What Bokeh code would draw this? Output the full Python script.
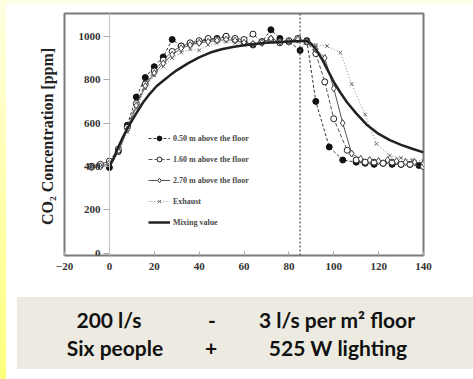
from bokeh.plotting import figure
from bokeh.models import Range1d, FixedTicker, Span, Title, Div, Legend, LegendItem
from bokeh.layouts import row, column
from bokeh.embed import file_html
from bokeh.resources import INLINE

# ---------------- data ----------------
x_ticks = [-20, 0, 20, 40, 60, 80, 100, 120, 140]
y_ticks = [0, 200, 400, 600, 800, 1000]
stop_time = 85

t_a = [-8, -4, 0, 4, 8, 12, 16, 20, 24, 28, 32, 36, 40, 44, 48, 52, 56, 60, 64, 68, 72, 76, 80, 85, 88, 92, 98, 104, 110, 114, 118, 122, 126, 130, 134, 138]
c_a = [400, 405, 395, 470, 590, 720, 810, 860, 905, 985, 955, 965, 975, 985, 990, 1000, 985, 975, 960, 975, 1030, 990, 975, 935, 980, 700, 490, 430, 420, 415, 410, 415, 410, 410, 410, 405]

t_b = [-8, -4, 0, 4, 8, 12, 16, 20, 24, 28, 32, 36, 40, 44, 48, 52, 56, 60, 64, 68, 72, 76, 80, 84, 88, 92, 96, 100, 106, 110, 114, 118, 122, 126, 130, 134, 140]
c_b = [400, 410, 425, 480, 580, 690, 780, 840, 890, 930, 955, 970, 980, 990, 985, 1000, 990, 985, 1010, 975, 985, 970, 980, 990, 975, 920, 790, 620, 475, 430, 420, 420, 415, 420, 410, 410, 400]

t_c = [-8, -4, 0, 4, 8, 12, 16, 20, 24, 28, 32, 36, 40, 44, 48, 52, 56, 60, 64, 68, 72, 76, 80, 84, 88, 92, 96, 100, 104, 108, 112, 116, 120, 124, 128, 132, 136, 140]
c_c = [395, 400, 415, 470, 570, 680, 770, 830, 875, 915, 945, 960, 970, 975, 980, 985, 980, 970, 965, 970, 990, 975, 975, 985, 975, 940, 900, 760, 600, 460, 435, 430, 425, 430, 425, 420, 420, 415]

t_d = [-8, -4, 0, 4, 8, 12, 16, 20, 24, 28, 32, 36, 40, 44, 48, 52, 56, 60, 64, 68, 72, 76, 80, 84, 88, 92, 97, 103, 108, 114, 119, 125, 130, 135, 140]
c_d = [400, 400, 410, 460, 560, 670, 760, 820, 860, 900, 925, 940, 935, 960, 970, 975, 970, 960, 955, 965, 975, 980, 970, 975, 975, 960, 955, 925, 780, 640, 505, 450, 440, 430, 425]

t_m = [0, 2, 4, 6, 8, 10, 12, 15, 18, 21, 24, 27, 30, 35, 40, 45, 50, 55, 60, 65, 70, 75, 80, 85, 88, 90, 92, 95, 98, 100, 103, 106, 110, 115, 120, 125, 130, 135, 140]
c_m = [400, 440, 490, 535, 575, 610, 645, 695, 735, 770, 795, 820, 843, 875, 903, 925, 940, 951, 959, 965, 970, 973, 976, 978, 978, 965, 940, 890, 830, 790, 740, 695, 645, 590, 550, 522, 500, 482, 465]

series_labels = ["0.50 m above the floor", "1.60 m above the floor", "2.70 m above the floor", "Exhaust", "Mixing value"]
y_title = "CO\u2082 Concentration  [ppm]"
box_lines = [["200 l/s", "-", "3 l/s per m\u00b2 floor"],
             ["Six people", "+", "525 W lighting"]]

# ---------------- figure ----------------
p = figure(width=467, height=286, x_range=Range1d(-20, 140), y_range=Range1d(-10, 1105),
           output_backend="svg", toolbar_location=None, title=None,
           min_border_left=58, min_border_right=50, min_border_top=9, min_border_bottom=35,
           margin=0)
p.background_fill_color = "white"
p.border_fill_color = "white"
p.outline_line_color = "#7a7a7a"
p.outline_line_width = 2
p.xgrid.visible = False
p.ygrid.visible = False

serif = "Liberation Serif"
xa = p.xaxis[0]
xa.ticker = FixedTicker(ticks=x_ticks)
xa.major_tick_in = 4
xa.major_tick_out = 0
xa.minor_tick_line_color = None
xa.axis_line_color = None
xa.major_tick_line_color = "#aaaaaa"
xa.major_label_text_font = serif
xa.major_label_text_font_style = "bold"
xa.major_label_text_font_size = "11px"
xa.major_label_text_color = "#333333"
xa.major_label_standoff = 7

ya = p.yaxis[0]
ya.fixed_location = 0
ya.ticker = FixedTicker(ticks=y_ticks)
ya.major_tick_in = 0
ya.major_tick_out = 6
ya.minor_tick_line_color = None
ya.axis_line_color = "#c4c4c4"
ya.major_tick_line_color = "#aaaaaa"
ya.major_label_text_font = serif
ya.major_label_text_font_style = "bold"
ya.major_label_text_font_size = "11px"
ya.major_label_text_color = "#333333"
ya.major_label_standoff = 3

p.add_layout(Title(text=y_title, text_font=serif, text_font_style="bold",
                   text_font_size="16px", text_color="#222222", align="center",
                   standoff=17), "left")

p.add_layout(Span(location=stop_time, dimension="height", line_color="#555555",
                  line_dash="2 2", line_width=1.3))

ra_l = p.line(t_a, c_a, line_color="#333333", line_dash="3 2", line_width=1)
ra_m = p.scatter(t_a, c_a, marker="circle", size=6, fill_color="#111111", line_color="#111111")
rb_l = p.line(t_b, c_b, line_color="#555555", line_dash="4 2", line_width=1)
rb_m = p.scatter(t_b, c_b, marker="circle", size=6, fill_color="white", line_color="#222222")
rc_l = p.line(t_c, c_c, line_color="#555555", line_width=1)
rc_m = p.scatter(t_c, c_c, marker="diamond", size=7, fill_color="white", line_color="#444444")
rd_l = p.line(t_d, c_d, line_color="#888888", line_dash="1 2", line_width=1)
rd_m = p.scatter(t_d, c_d, marker="x", size=5, line_color="#666666")
rm_l = p.line(t_m, c_m, line_color="#222222", line_width=2.5)

legend = Legend(items=[
    LegendItem(label=series_labels[0], renderers=[ra_l, ra_m]),
    LegendItem(label=series_labels[1], renderers=[rb_l, rb_m]),
    LegendItem(label=series_labels[2], renderers=[rc_l, rc_m]),
    LegendItem(label=series_labels[3], renderers=[rd_l, rd_m]),
    LegendItem(label=series_labels[4], renderers=[rm_l]),
], location=(84, 27))
legend.label_text_font = serif
legend.label_text_font_style = "bold"
legend.label_text_font_size = "8px"
legend.label_text_color = "#4a4a4a"
legend.glyph_width = 22
legend.glyph_height = 12
legend.label_height = 12
legend.spacing = 9
legend.padding = 0
legend.margin = 0
legend.label_standoff = 3
legend.border_line_color = None
legend.background_fill_alpha = 0
p.add_layout(legend)

# ---------------- surroundings ----------------
strip = Div(text="", width=6, height=379, margin=0,
            styles={"background": "linear-gradient(#FFFFE2, #FFFF7C)"})
top = Div(text="", width=467, height=4, margin=0, styles={"background-color": "#FFFFE6"})

centers = [[109, 212, 337], [115, 211, 338]]
ys = [30, 58]
spans = ""
for li, line in enumerate(box_lines):
    for ci, txt in enumerate(line):
        spans += ('<span style="position:absolute;left:%dpx;top:%dpx;transform:translate(-50%%,-50%%);'
                  'font-family:Lato;font-weight:bold;font-size:21px;color:#111;white-space:nowrap;">%s</span>'
                  % (centers[li][ci] - 6, ys[li], txt))
box_html = ('<div style="position:relative;width:467px;height:89px;background:#ffffff;">'
            '<div style="position:absolute;left:11px;top:7px;width:456px;height:72px;background:#EDEBE1;"></div>'
            + spans + '</div>')
box = Div(text=box_html, width=467, height=89, margin=0)

layout = row(strip, column(top, p, box, margin=0), margin=0)
open("out.html", "w").write(file_html(layout, INLINE))
